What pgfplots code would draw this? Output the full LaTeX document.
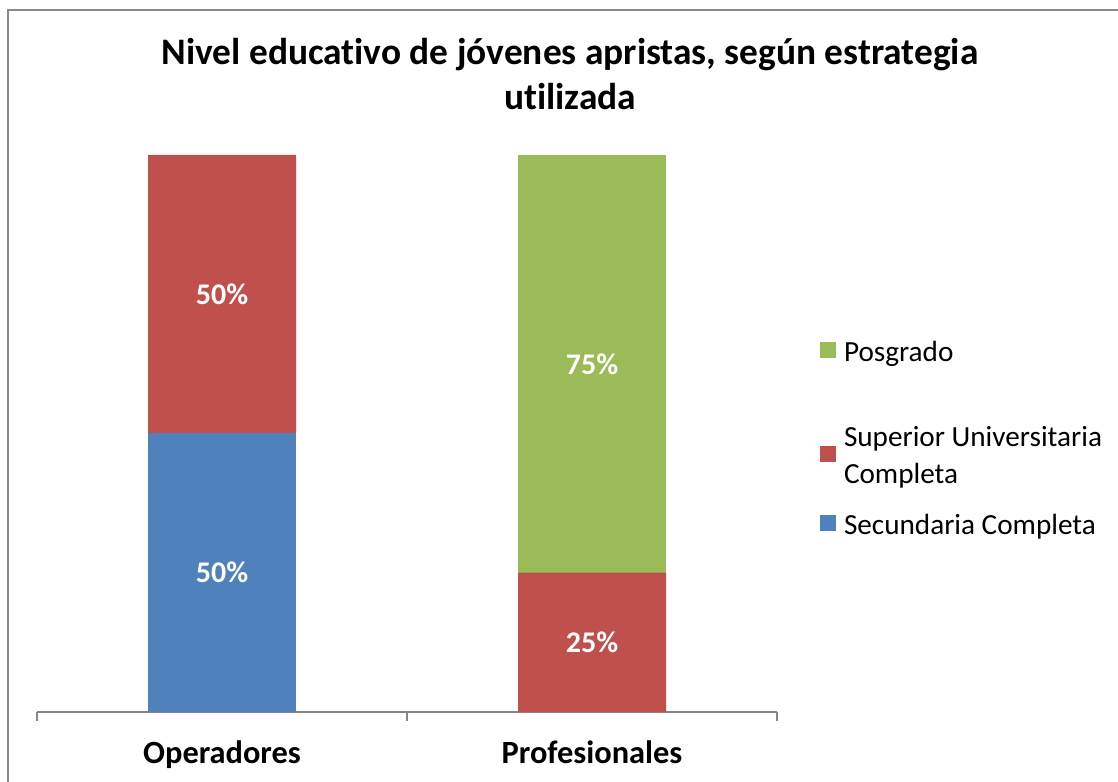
\documentclass[border=0pt]{standalone}
\usepackage{fontspec}
\setmainfont{Carlito}[Ligatures={NoCommon}]
\usepackage{pgfplots}
\pgfplotsset{compat=1.18}

\definecolor{azul}{HTML}{4F81BD}
\definecolor{rojo}{HTML}{C0504D}
\definecolor{verde}{HTML}{9BBB59}
\definecolor{marco}{HTML}{898989}
\definecolor{eje}{HTML}{868686}

\newcommand\lstrut{\rule[-5.25pt]{0pt}{17.5pt}}

\begin{document}
\begin{tikzpicture}
\path[use as bounding box] (0,0) rectangle (559pt,390.5pt);
\draw[marco, line width=0.75pt] (4pt,-1pt) -- (4pt,385.5pt) -- (560pt,385.5pt);

\node[font=\fontsize{18.7pt}{22.5pt}\selectfont\bfseries, anchor=base]
  at (285pt,358pt) {Nivel educativo de jóvenes apristas, según estrategia};
\node[font=\fontsize{18.7pt}{22.5pt}\selectfont\bfseries, anchor=base]
  at (285pt,335.5pt) {utilizada};

\begin{axis}[
  at={(18.5pt,34.5pt)}, anchor=south west,
  scale only axis, width=370pt, height=278.5pt,
  ybar stacked, bar width=0.4,
  xmin=-0.5, xmax=1.5, ymin=0, ymax=100,
  axis x line*=bottom, axis y line=none,
  x axis line style={eje, line width=0.75pt},
  xtick={0,1}, xticklabels={Operadores,Profesionales},
  major tick length=0pt,
  minor xtick={-0.5,0.5,1.5}, minor tick length=4.5pt,
  tick align=outside,
  every minor tick/.style={eje, line width=0.75pt},
  xticklabel style={anchor=base, yshift=-25.5pt,
    font=\fontsize{16.2pt}{19pt}\selectfont\bfseries},
  point meta=explicit symbolic,
  nodes near coords,
  every node near coord/.append style={
    font=\fontsize{15pt}{18pt}\selectfont\bfseries, text=white,
    anchor=center},
  reverse legend,
  legend cell align=left,
  legend style={at={(1.05811,0.6741)}, anchor=north west, draw=none,
    inner sep=0pt, outer sep=0pt, row sep=11.5pt, column sep=4pt,
    nodes={inner sep=0pt, outer sep=0pt, align=left},
    font=\fontsize{14.6pt}{17.5pt}\selectfont},
]
\addplot[fill=azul, draw=none,
  legend image code/.code={\fill[azul] (0pt,-4pt) rectangle (8pt,4pt);}]
  coordinates {(0,50) [50\%] (1,0) []};
\addlegendentry{\lstrut Secundaria Completa}
\addplot[fill=rojo, draw=none,
  legend image code/.code={\fill[rojo] (0pt,-4pt) rectangle (8pt,4pt);}]
  coordinates {(0,50) [50\%] (1,25) [25\%]};
\addlegendentry{\lstrut Superior Universitaria\\[1pt]\lstrut Completa}
\addlegendimage{empty legend}
\addlegendentry{\rule{0pt}{4.5pt}}
\addplot[fill=verde, draw=none,
  legend image code/.code={\fill[verde] (0pt,-4pt) rectangle (8pt,4pt);}]
  coordinates {(0,0) [] (1,75) [75\%]};
\addlegendentry{\lstrut Posgrado}
\end{axis}
\end{tikzpicture}
\end{document}
